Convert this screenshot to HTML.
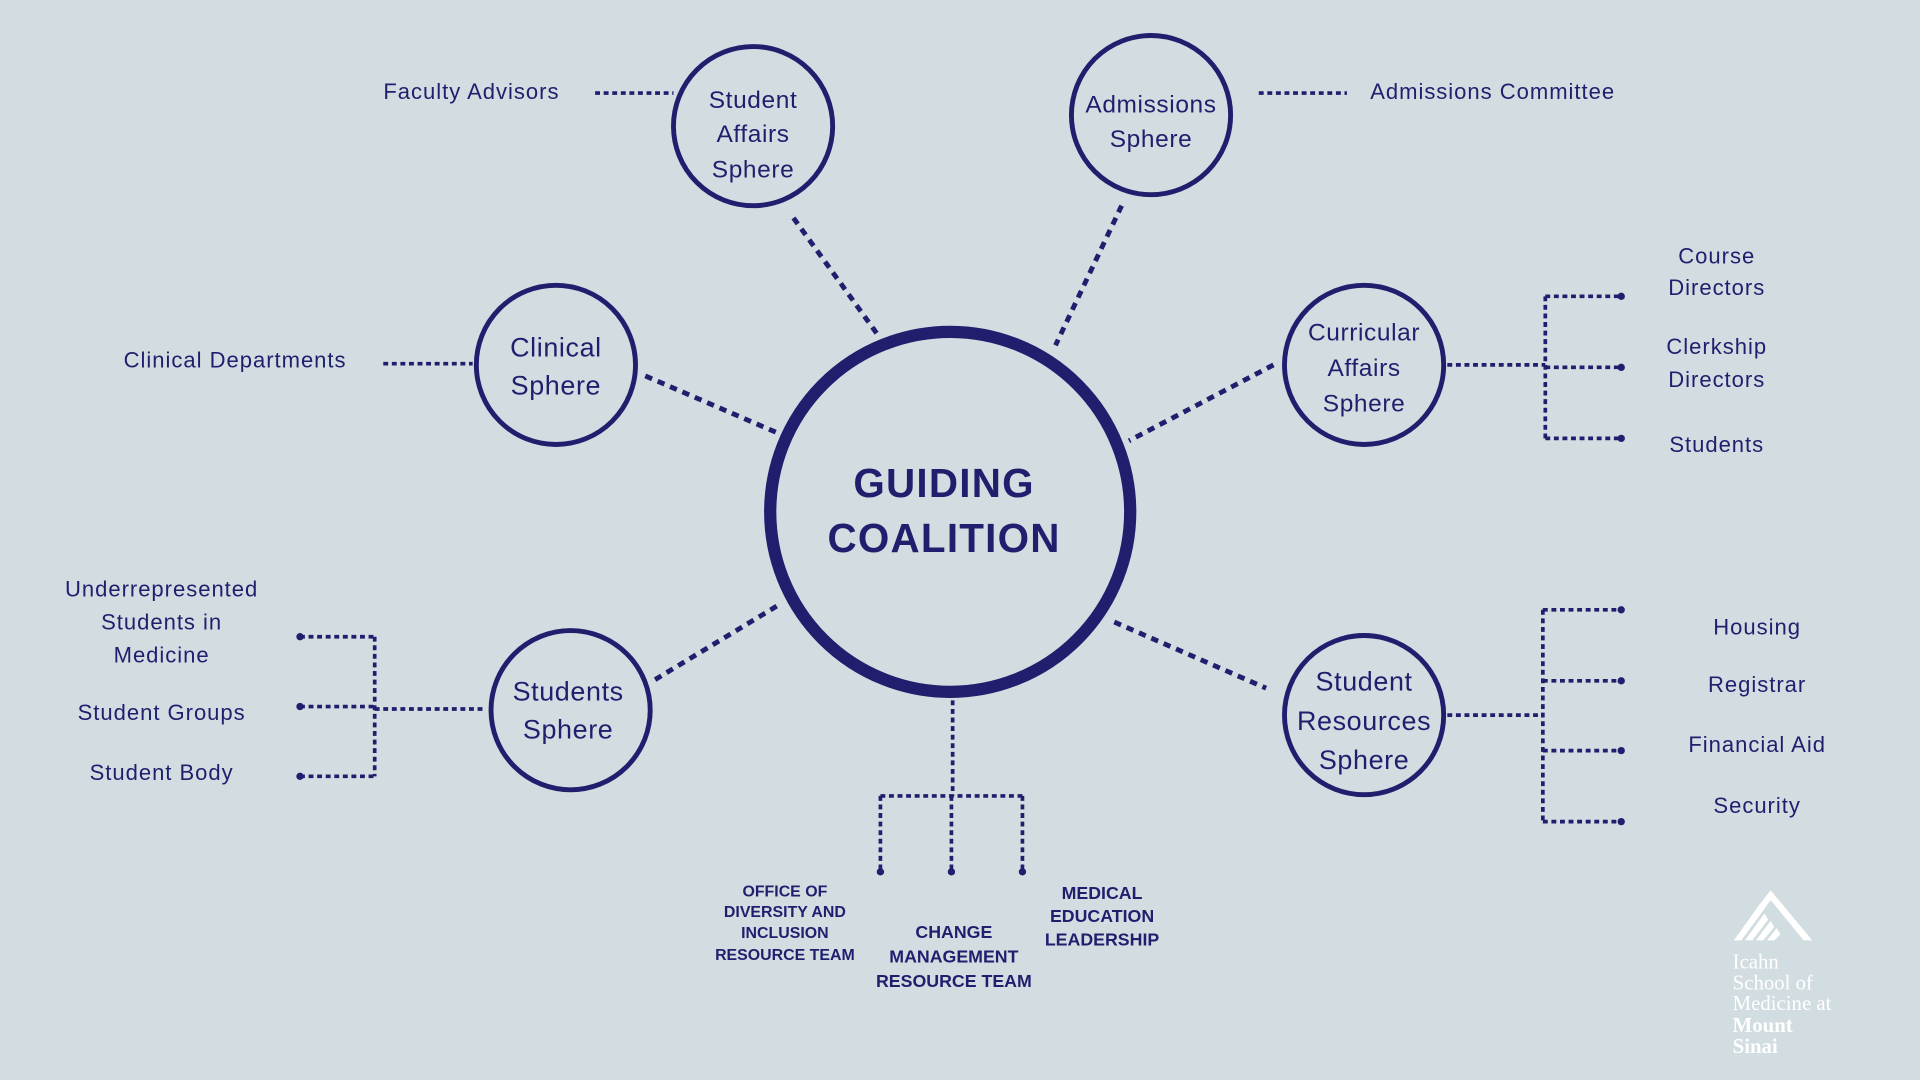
<!DOCTYPE html>
<html><head><meta charset="utf-8"><style>
html,body{margin:0;padding:0;background:#d2dde1;}
svg{display:block;}
text{font-family:"Liberation Sans",sans-serif;fill:#1f1f6e;}
text.logo{font-family:"Liberation Serif",serif;fill:#ffffff;}
</style></head><body>
<svg width="1920" height="1080" viewBox="0 0 1568 882" xmlns="http://www.w3.org/2000/svg">
<rect width="1568" height="882" fill="#d2dde1"/>
<g stroke="#1f1f6e" fill="none">
<circle cx="776" cy="418" r="147" stroke-width="10"/>
<g stroke-width="4">
<circle cx="615" cy="103" r="65"/>
<circle cx="940" cy="94" r="65"/>
<circle cx="454" cy="298" r="65"/>
<circle cx="1114" cy="298" r="65"/>
<circle cx="466" cy="580" r="65"/>
<circle cx="1114" cy="584" r="65"/>
</g>
<g stroke-width="4" stroke-dasharray="6,5">
<line x1="648" y1="178" x2="718" y2="275"/>
<line x1="916" y1="168" x2="862" y2="282"/>
<line x1="527" y1="307" x2="636" y2="354"/>
<line x1="1040" y1="298" x2="922" y2="360"/>
<line x1="535" y1="555" x2="636" y2="494"/>
<line x1="910" y1="508" x2="1034" y2="562"/>
</g>
<g stroke-width="3" stroke-dasharray="4,3">
<line x1="486" y1="76" x2="550" y2="76"/>
<line x1="1028" y1="76" x2="1100" y2="76"/>
<line x1="313" y1="297" x2="386" y2="297"/>
<line x1="778" y1="572" x2="778" y2="650"/>
<line x1="719" y1="650" x2="835" y2="650"/>
<line x1="719" y1="650" x2="719" y2="712"/>
<line x1="777" y1="650" x2="777" y2="712"/>
<line x1="835" y1="650" x2="835" y2="712"/>
<line x1="1182" y1="298" x2="1262" y2="298"/>
<line x1="1262" y1="242" x2="1262" y2="358"/>
<line x1="1262" y1="242" x2="1324" y2="242"/>
<line x1="1262" y1="300" x2="1324" y2="300"/>
<line x1="1262" y1="358" x2="1324" y2="358"/>
<line x1="245" y1="520" x2="306" y2="520"/>
<line x1="245" y1="577" x2="306" y2="577"/>
<line x1="245" y1="634" x2="306" y2="634"/>
<line x1="306" y1="520" x2="306" y2="634"/>
<line x1="306" y1="579" x2="396" y2="579"/>
<line x1="1182" y1="584" x2="1260" y2="584"/>
<line x1="1260" y1="498" x2="1260" y2="671"/>
<line x1="1260" y1="498" x2="1324" y2="498"/>
<line x1="1260" y1="556" x2="1324" y2="556"/>
<line x1="1260" y1="613" x2="1324" y2="613"/>
<line x1="1260" y1="671" x2="1324" y2="671"/>
</g>
</g>
<g fill="#1f1f6e">
<circle cx="719" cy="712" r="3"/><circle cx="777" cy="712" r="3"/><circle cx="835" cy="712" r="3"/>
<circle cx="1324" cy="242" r="3"/><circle cx="1324" cy="300" r="3"/><circle cx="1324" cy="358" r="3"/>
<circle cx="245" cy="520" r="3"/><circle cx="245" cy="577" r="3"/><circle cx="245" cy="634" r="3"/>
<circle cx="1324" cy="498" r="3"/><circle cx="1324" cy="556" r="3"/><circle cx="1324" cy="613" r="3"/><circle cx="1324" cy="671" r="3"/>
</g>
<g text-anchor="middle">
<text x="771" y="406" font-size="33" font-weight="bold" letter-spacing="1">GUIDING</text>
<text x="771" y="451" font-size="33" font-weight="bold" letter-spacing="1">COALITION</text>
<g font-size="20" letter-spacing="0.5">
<text x="615" y="88">Student</text><text x="615" y="116">Affairs</text><text x="615" y="145">Sphere</text>
<text x="940" y="92">Admissions</text><text x="940" y="120">Sphere</text>
<text x="1114" y="278">Curricular</text><text x="1114" y="307">Affairs</text><text x="1114" y="336">Sphere</text>
</g>
<g font-size="22" letter-spacing="0.5">
<text x="454" y="291">Clinical</text><text x="454" y="322">Sphere</text>
<text x="464" y="572">Students</text><text x="464" y="603">Sphere</text>
<text x="1114" y="564">Student</text><text x="1114" y="596">Resources</text><text x="1114" y="628">Sphere</text>
</g>
<g font-size="18" letter-spacing="0.8">
<text x="385" y="81">Faculty Advisors</text>
<text x="1219" y="81">Admissions Committee</text>
<text x="192" y="300">Clinical Departments</text>
<text x="1402" y="215">Course</text><text x="1402" y="241">Directors</text>
<text x="1402" y="289">Clerkship</text><text x="1402" y="316">Directors</text>
<text x="1402" y="369">Students</text>
<text x="132" y="487">Underrepresented</text><text x="132" y="514">Students in</text><text x="132" y="541">Medicine</text>
<text x="132" y="588">Student Groups</text>
<text x="132" y="637">Student Body</text>
<text x="1435" y="518">Housing</text>
<text x="1435" y="565">Registrar</text>
<text x="1435" y="614">Financial Aid</text>
<text x="1435" y="664">Security</text>
</g>
<g font-size="13" font-weight="bold">
<text x="641" y="732">OFFICE OF</text><text x="641" y="749">DIVERSITY AND</text><text x="641" y="766">INCLUSION</text><text x="641" y="784">RESOURCE TEAM</text>
</g>
<g font-size="14.5" font-weight="bold">
<text x="779" y="766">CHANGE</text><text x="779" y="786">MANAGEMENT</text><text x="779" y="806">RESOURCE TEAM</text>
<text x="900" y="734">MEDICAL</text><text x="900" y="753">EDUCATION</text><text x="900" y="772">LEADERSHIP</text>
</g>
</g>
<g fill="#ffffff">
<polygon points="1416,768 1436,740 1439,745 1422,768"/>
<polygon points="1425,768 1441,746 1444,751 1431,768"/>
<polygon points="1434,768 1446,752 1449,757 1440,768"/>
<polygon points="1443,768 1451,758 1454,763 1449,768"/>
<polygon points="1436,740 1446,727 1480,768 1473,768 1446,735 1439,745"/>
<text class="logo" x="1415" y="791" font-size="17">Icahn</text>
<text class="logo" x="1415" y="808" font-size="17">School of</text>
<text class="logo" x="1415" y="825" font-size="17">Medicine at</text>
<text class="logo" x="1415" y="843" font-size="17" font-weight="bold">Mount</text>
<text class="logo" x="1415" y="860" font-size="17" font-weight="bold">Sinai</text>
</g>
</svg>
</body></html>
